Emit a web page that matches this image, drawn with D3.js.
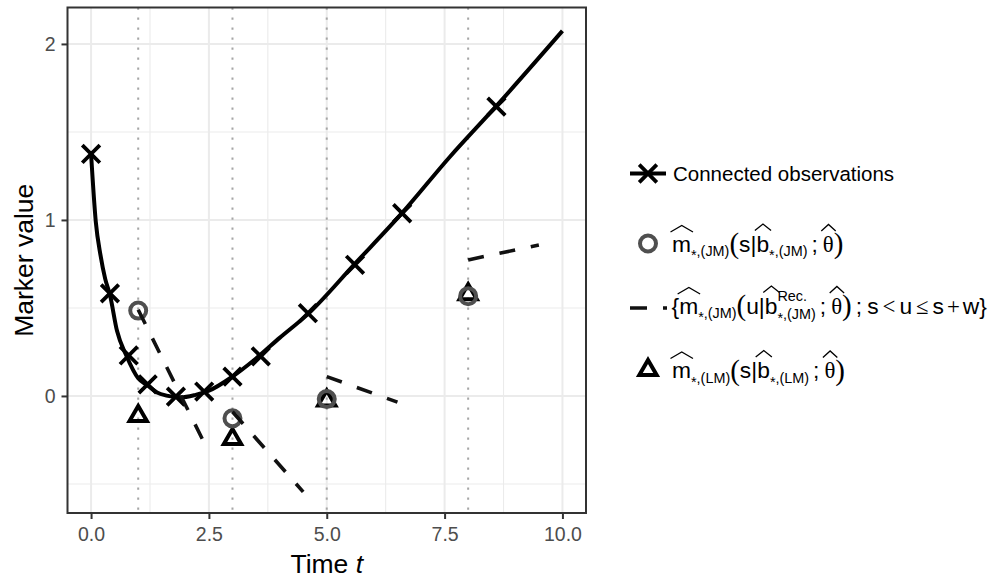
<!DOCTYPE html>
<html>
<head>
<meta charset="utf-8">
<script src="https://cdn.jsdelivr.net/npm/d3@7"></script>
<style>
  body { margin: 0; background: #ffffff; }
  svg { display: block; font-family: "Liberation Sans", Arial, Helvetica, sans-serif; }
</style>
</head>
<body>
<svg id="chart" width="989" height="578"></svg>
<script>
// ---------------- data ----------------
const xDomain = [-0.5, 10.5];
const yDomain = [-0.665, 2.207];
const xTicks = [0, 2.5, 5, 7.5, 10];
const xMinorTicks = [1.25, 3.75, 6.25, 8.75];
const yTicks = [0, 1, 2];
const yMinorTicks = [-0.5, 0.5, 1.5];
const landmarkTimes = [1, 3, 5, 8];

const obsTime  = [0, 0.4, 0.8, 1.2, 1.8, 2.4, 3.0, 3.6, 4.6, 5.6, 6.6, 8.6];
const obsValue = [1.375, 0.583, 0.23, 0.066, -0.004, 0.025, 0.11, 0.225, 0.47, 0.745, 1.038, 1.644];

const curveTime  = [0, 0.1, 0.2, 0.3, 0.4, 0.55, 0.75, 1.0, 1.2, 1.4, 1.6, 1.9, 2.2, 2.5, 3.0, 3.5, 4.0, 4.6, 5.6, 6.6, 7.6, 8.6, 10];
const curveValue = [1.375, 0.99, 0.80, 0.665, 0.575, 0.37, 0.228, 0.10, 0.06, 0.02, 0.002, -0.008, 0.005, 0.03, 0.11, 0.213, 0.33, 0.465, 0.752, 1.04, 1.355, 1.648, 2.074];

const jmValue = [0.485, -0.127, -0.018, 0.567];
const lmValue = [-0.114, -0.245, -0.026, 0.578];

const recWindow = 1.5;
const recStartValue = [0.49, -0.09, 0.11, 0.773];
const recEndValue   = [-0.32, -0.545, -0.035, 0.858];

const xTitle = "Time ";
const xTitleItalic = "t";
const yTitle = "Marker value";
const legendFirstLabel = "Connected observations";

// ---------------- layout ----------------
const W = 989, H = 578;
const panel = { left: 67.5, top: 7.5, right: 586, bottom: 513 };
const INK = "#000000";
const GREY_PT = "#4f4f4f";

const x = d3.scaleLinear().domain(xDomain).range([panel.left, panel.right]);
const y = d3.scaleLinear().domain(yDomain).range([panel.bottom, panel.top]);

const svg = d3.select("#chart");
svg.append("rect").attr("width", W).attr("height", H).attr("fill", "#ffffff");

// grid
const grid = svg.append("g");
grid.selectAll(".vmin").data(xMinorTicks).join("line")
  .attr("x1", d => x(d)).attr("x2", d => x(d))
  .attr("y1", panel.top).attr("y2", panel.bottom)
  .attr("stroke", "#ebebeb").attr("stroke-width", 1.1);
grid.selectAll(".hmin").data(yMinorTicks).join("line")
  .attr("y1", d => y(d)).attr("y2", d => y(d))
  .attr("x1", panel.left).attr("x2", panel.right)
  .attr("stroke", "#ebebeb").attr("stroke-width", 1.1);
grid.selectAll(".vmaj").data(xTicks).join("line")
  .attr("x1", d => x(d)).attr("x2", d => x(d))
  .attr("y1", panel.top).attr("y2", panel.bottom)
  .attr("stroke", "#ebebeb").attr("stroke-width", 2);
grid.selectAll(".hmaj").data(yTicks).join("line")
  .attr("y1", d => y(d)).attr("y2", d => y(d))
  .attr("x1", panel.left).attr("x2", panel.right)
  .attr("stroke", "#ebebeb").attr("stroke-width", 2);

// landmark dotted lines
svg.append("g").selectAll("line").data(landmarkTimes).join("line")
  .attr("x1", d => x(d)).attr("x2", d => x(d))
  .attr("y1", panel.top).attr("y2", panel.bottom)
  .attr("stroke", "#a6a6a6").attr("stroke-width", 2)
  .attr("stroke-dasharray", "2.2,7.8");

// clip to panel
svg.append("clipPath").attr("id", "pclip").append("rect")
  .attr("x", panel.left).attr("y", panel.top)
  .attr("width", panel.right - panel.left).attr("height", panel.bottom - panel.top);
const plot = svg.append("g").attr("clip-path", "url(#pclip)");

// fitted curve
const curvePts = curveTime.map((t, i) => [t, curveValue[i]]);
plot.append("path").datum(curvePts)
  .attr("fill", "none").attr("stroke", INK).attr("stroke-width", 4)
  .attr("d", d3.line().x(d => x(d[0])).y(d => y(d[1])).curve(d3.curveMonotoneX));

// symbol helpers
const XR = 8.8, CR = 8, TR = 10;
function drawX(g, cx, cy) {
  g.append("path")
    .attr("d", `M${cx - XR},${cy - XR}L${cx + XR},${cy + XR}M${cx - XR},${cy + XR}L${cx + XR},${cy - XR}`)
    .attr("stroke", INK).attr("stroke-width", 3.8).attr("fill", "none");
}
function drawCircle(g, cx, cy) {
  g.append("circle").attr("cx", cx).attr("cy", cy).attr("r", CR)
    .attr("fill", "none").attr("stroke", GREY_PT).attr("stroke-width", 4);
}
function drawTri(g, cx, cy) {
  const h = TR * Math.sqrt(3) / 2;
  g.append("path")
    .attr("d", `M${cx},${cy - TR}L${cx + h},${cy + TR / 2}L${cx - h},${cy + TR / 2}Z`)
    .attr("fill", "none").attr("stroke", INK).attr("stroke-width", 4)
    .attr("stroke-linejoin", "miter");
}

// observations
obsTime.forEach((t, i) => drawX(plot, x(t), y(obsValue[i])));
// LM predictions (triangles)
landmarkTimes.forEach((t, i) => drawTri(plot, x(t), y(lmValue[i])));
// JM predictions (circles)
landmarkTimes.forEach((t, i) => drawCircle(plot, x(t), y(jmValue[i])));
// dynamic predictions (dashed)
landmarkTimes.forEach((t, i) => {
  plot.append("path")
    .datum([[t, recStartValue[i]], [t + recWindow, recEndValue[i]]])
    .attr("fill", "none").attr("stroke", "#111").attr("stroke-width", 3.6)
    .attr("stroke-dasharray", "16,16")
    .attr("d", d3.line().x(d => x(d[0])).y(d => y(d[1])));
});

// panel border
svg.append("rect")
  .attr("x", panel.left).attr("y", panel.top)
  .attr("width", panel.right - panel.left).attr("height", panel.bottom - panel.top)
  .attr("fill", "none").attr("stroke", "#333333").attr("stroke-width", 2);

// axes
const xAxis = svg.append("g").attr("transform", `translate(0,${panel.bottom})`)
  .call(d3.axisBottom(x).tickValues(xTicks).tickFormat(d3.format(".1f")).tickSize(6).tickPadding(8));
const yAxis = svg.append("g").attr("transform", `translate(${panel.left},0)`)
  .call(d3.axisLeft(y).tickValues(yTicks).tickFormat(d3.format("d")).tickSize(6).tickPadding(6));
[xAxis, yAxis].forEach(a => {
  a.select(".domain").remove();
  a.selectAll(".tick line").attr("stroke", "#333333").attr("stroke-width", 2);
  a.selectAll(".tick text").attr("fill", "#4d4d4d")
    .attr("font-size", 19.5).attr("font-family", "Liberation Sans, Arial, sans-serif");
});

// axis titles
const xt = svg.append("text")
  .attr("x", (panel.left + panel.right) / 2).attr("y", 573)
  .attr("text-anchor", "middle").attr("font-size", 26.5).attr("fill", "#000");
xt.append("tspan").text(xTitle);
xt.append("tspan").attr("font-style", "italic").text(xTitleItalic);

svg.append("text")
  .attr("transform", `translate(33,${(panel.top + panel.bottom) / 2}) rotate(-90)`)
  .attr("text-anchor", "middle").attr("font-size", 26.5).attr("fill", "#000")
  .text(yTitle);

// ---------------- legend ----------------
const legend = svg.append("g");
const keyX = 648;
const keyL = 630, keyR = 666;
const rowY = [173.5, 243.5, 308, 370];
const textX = 673;

// row 1
legend.append("line").attr("x1", keyL).attr("x2", keyR).attr("y1", rowY[0]).attr("y2", rowY[0])
  .attr("stroke", INK).attr("stroke-width", 4);
drawX(legend, keyX, rowY[0]);
legend.append("text").attr("x", textX).attr("y", rowY[0] + 7.5)
  .attr("font-size", 20.5).attr("fill", "#000").text(legendFirstLabel);

// row 2, 3, 4 keys
drawCircle(legend, keyX, rowY[1]);
legend.append("line").attr("x1", keyL).attr("x2", keyR + 1).attr("y1", rowY[2]).attr("y2", rowY[2])
  .attr("stroke", "#111").attr("stroke-width", 3.6).attr("stroke-dasharray", "17,16");
drawTri(legend, keyX, rowY[3]);

// math renderer
const SANS = "Liberation Sans, Arial, sans-serif";
const SERIF = "Liberation Serif, Times New Roman, serif";
const F = 22.8, S = 14.4, P = 29;
function drawMath(g, x0, base, tokens) {
  let cx = x0;
  tokens.forEach(tk => {
    if (tk.gap !== undefined) { cx += tk.gap; return; }
    if (tk.stack) {
      let wmax = 0;
      tk.stack.forEach(part => {
        let px = cx;
        part.items.forEach(it => {
          const t = g.append("text").attr("x", px).attr("y", base + part.dy + (it.dy || 0))
            .attr("font-size", it.fs || S).attr("font-family", it.ff || SANS).attr("fill", "#000").text(it.s);
          px += t.node().getComputedTextLength();
        });
        wmax = Math.max(wmax, px - cx);
      });
      cx += wmax;
      return;
    }
    const fs = tk.fs || F;
    const t = g.append("text").attr("x", cx).attr("y", base + (tk.dy || 0))
      .attr("font-size", fs).attr("font-family", tk.ff || SANS).attr("fill", "#000").text(tk.s);
    const w = t.node().getComputedTextLength();
    if (tk.hat) {
      const x1 = cx - 1.5, x2 = cx + w + 2;
      const yb = base - (tk.hatBase || 19.5), yp = base - (tk.hatPeak || 26);
      g.append("path").attr("d", `M${x1},${yb}L${(x1 + x2) / 2},${yp}L${x2},${yb}`)
        .attr("fill", "none").attr("stroke", "#000").attr("stroke-width", 1.3);
    }
    cx += w;
  });
  return cx;
}
const star = { s: "*", fs: S, dy: 8.5 };
const subJM = [ star, { s: ",(JM)", fs: S, dy: 4.5 } ];
const subLM = [ star, { s: ",(LM)", fs: S, dy: 4.5 } ];
const thetaHat = { s: "\u03B8", ff: SERIF, hat: true, hatBase: 20.5, hatPeak: 27 };
const bHat = { s: "b", hat: true, hatBase: 21, hatPeak: 27.5 };
const lp = { s: "(", fs: P, ff: SERIF, dy: 1.5 };
const rp = { s: ")", fs: P, ff: SERIF, dy: 1.5 };

drawMath(legend, textX - 1, rowY[1] + 8, [
  { s: "m", hat: true }, ...subJM,
  lp, { s: "s" }, { s: "|" }, bHat, ...subJM,
  { gap: 4 }, { s: ";" }, { gap: 5 }, thetaHat, rp
]);

drawMath(legend, textX - 1.5, rowY[2] + 5.5, [
  { s: "{" }, { s: "m", hat: true }, ...subJM,
  lp, { s: "u" }, { s: "|" }, bHat,
  { stack: [
      { dy: -12.5, items: [ { s: "Rec.", fs: S } ] },
      { dy: 5.5, items: [ { s: "*", fs: S, dy: 4 }, { s: ",(JM)", fs: S } ] }
  ] },
  { gap: 4 }, { s: ";" }, { gap: 5 }, thetaHat, rp,
  { gap: 4 }, { s: ";" }, { gap: 5 }, { s: "s" }, { gap: 4 },
  { s: "<", ff: SERIF }, { gap: 4 }, { s: "u" }, { gap: 4 },
  { s: "\u2264", ff: SERIF }, { gap: 4 }, { s: "s" }, { gap: 3 },
  { s: "+", ff: SERIF }, { gap: 3 }, { s: "w" }, { s: "}" }
]);

drawMath(legend, textX - 1, rowY[3] + 8, [
  { s: "m", hat: true }, ...subLM,
  lp, { s: "s" }, { s: "|" }, bHat, ...subLM,
  { gap: 4 }, { s: ";" }, { gap: 5 }, thetaHat, rp
]);
</script>
</body>
</html>
